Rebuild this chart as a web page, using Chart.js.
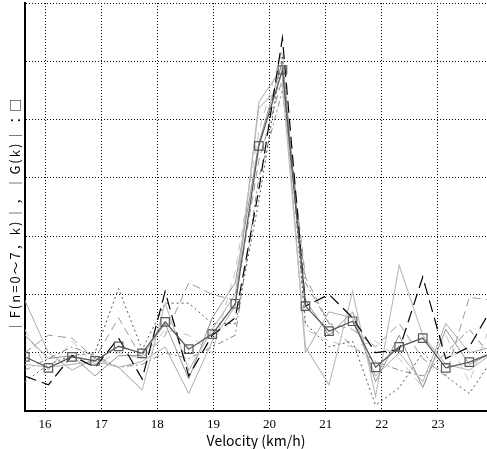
<!DOCTYPE html>
<html>
<head>
<meta charset="utf-8">
<script src="https://cdn.jsdelivr.net/npm/chart.js@4/dist/chart.umd.min.js"></script>
<style>
html,body{margin:0;padding:0;background:#fff;}
#wrap{width:487px;height:449px;position:relative;}
</style>
</head>
<body>
<div id="wrap"><canvas id="c" width="487" height="449"></canvas></div>
<script>
// Velocity (km/h) at each sample k
const velocity = [15.64, 16.06, 16.48, 16.89, 17.31, 17.73, 18.14, 18.56, 18.98, 19.39, 19.81, 20.23, 20.64, 21.06, 21.48, 21.89, 22.31, 22.73, 23.14, 23.56, 23.98];
const xTicks = [16, 17, 18, 19, 20, 21, 22, 23];
const yTitle = '｜F(n=0～7，k)｜，｜G(k)｜：□';
const xTitle = 'Velocity (km/h)';

// |G(k)|
const G  = [0.93, 0.74, 0.93, 0.86, 1.11, 0.99, 1.53, 1.06, 1.32, 1.84, 4.55, 5.85, 1.80, 1.37, 1.54, 0.75, 1.10, 1.25, 0.74, 0.84, 1.00];
// |F(n, k)| n = 0..7
const F0 = [0.60, 0.45, 0.95, 0.75, 1.25, 0.55, 2.05, 0.60, 1.30, 1.60, 3.80, 6.40, 1.80, 2.00, 1.60, 1.00, 1.05, 2.30, 0.90, 1.10, 1.80];
const F1 = [0.80, 0.75, 0.80, 0.85, 0.75, 0.36, 1.85, 0.70, 1.40, 2.00, 5.20, 5.60, 1.10, 0.45, 2.05, 0.25, 2.50, 1.30, 0.80, 0.70, 1.00];
const F2 = [1.30, 0.90, 0.95, 0.60, 0.95, 0.95, 1.50, 0.55, 1.60, 2.20, 4.60, 6.00, 1.90, 1.30, 1.70, 0.50, 1.30, 0.40, 1.40, 0.80, 1.00];
const F3 = [1.90, 1.00, 0.70, 0.90, 0.75, 0.85, 1.10, 0.30, 1.20, 1.80, 5.30, 5.90, 1.00, 1.70, 1.60, 0.60, 1.00, 0.50, 1.50, 1.00, 1.10];
const F4 = [0.50, 0.80, 0.95, 1.00, 2.10, 1.05, 1.85, 1.85, 1.50, 1.50, 3.60, 6.10, 1.50, 1.10, 1.20, 0.10, 0.40, 1.00, 0.60, 0.30, 0.90];
const F5 = [1.00, 1.30, 1.25, 0.90, 1.60, 0.90, 1.30, 2.20, 2.00, 1.90, 4.30, 5.70, 2.30, 1.50, 1.40, 1.10, 1.50, 0.90, 0.60, 1.95, 1.90];
const F6 = [0.70, 0.90, 1.10, 0.95, 0.75, 0.80, 1.00, 0.90, 1.10, 1.30, 4.00, 5.50, 2.20, 1.50, 1.10, 0.85, 0.70, 0.60, 1.00, 1.40, 0.90];
const F7 = [1.40, 0.70, 1.20, 0.80, 1.00, 0.90, 1.40, 1.30, 1.00, 2.40, 4.80, 6.20, 1.40, 1.20, 1.10, 1.20, 0.90, 0.40, 1.30, 0.50, 1.60];

const pts = arr => arr.map((v, i) => ({x: velocity[i], y: v}));

const fStyles = [
  {c:'#000000', w:1.2, d:[12,6]},
  {c:'#bcbcbc', w:1.1, d:[]},
  {c:'#959595', w:1.0, d:[]},
  {c:'#acacac', w:1.0, d:[]},
  {c:'#555555', w:1.0, d:[2,3]},
  {c:'#9a9a9a', w:1.0, d:[8,5]},
  {c:'#888888', w:1.0, d:[6,3,2,3]},
  {c:'#c4c4c4', w:1.0, d:[8,6]}
];
const Fs = [F0, F1, F2, F3, F4, F5, F6, F7];

const datasets = [{
  label: '|G(k)|',
  data: pts(G),
  borderColor: '#5a5a5a',
  borderWidth: 1.3,
  pointStyle: 'rect',
  pointRadius: 6,
  pointBorderColor: '#5a5a5a',
  pointBorderWidth: 1.2,
  pointBackgroundColor: 'rgba(0,0,0,0)',
  showLine: true,
  tension: 0
}];
Fs.forEach((arr, n) => {
  datasets.push({
    label: 'F' + n,
    data: pts(arr),
    borderColor: fStyles[n].c,
    borderWidth: fStyles[n].w,
    borderDash: fStyles[n].d,
    pointRadius: 0,
    showLine: true,
    tension: 0
  });
});

// Draws the rotated y-axis title with letter spacing
const yTitlePlugin = {
  id: 'yTitle',
  afterDraw(chart) {
    const ctx = chart.ctx;
    ctx.save();
    ctx.translate(15, 215);
    ctx.rotate(-Math.PI / 2);
    ctx.font = '13px "Noto Sans CJK JP", sans-serif';
    try { ctx.letterSpacing = '2px'; } catch (e) {}
    ctx.fillStyle = '#000';
    ctx.textAlign = 'center';
    ctx.textBaseline = 'middle';
    ctx.fillText(yTitle, 0, 0);
    ctx.restore();
  }
};

new Chart(document.getElementById('c'), {
  type: 'scatter',
  data: { datasets },
  plugins: [yTitlePlugin],
  options: {
    responsive: false,
    animation: false,
    devicePixelRatio: 1,
    layout: { autoPadding: false, padding: { top: 3, left: 0, right: 0, bottom: 0 } },
    plugins: { legend: { display: false }, tooltip: { enabled: false } },
    scales: {
      x: {
        type: 'linear',
        min: 15.643,
        max: 23.875,
        afterBuildTicks: s => { s.ticks = xTicks.map(v => ({value: v})); },
        afterFit: s => { s.paddingLeft = 0; s.paddingRight = 0; s.height = 38; },
        ticks: {
          font: { family: '"Liberation Serif", serif', size: 13 },
          color: '#000',
          padding: 6,
          includeBounds: false
        },
        grid: { color: '#000', lineWidth: 1, drawTicks: false },
        border: { display: true, color: '#000', width: 2, dash: [1, 2] },
        title: {
          display: true,
          text: xTitle,
          font: { family: '"Noto Sans CJK JP", sans-serif', size: 14 },
          color: '#000',
          padding: { top: -3, bottom: 0 }
        }
      },
      y: {
        min: 0,
        max: 7,
        afterFit: s => { s.paddingTop = 0; s.paddingBottom = 0; s.width = 25; },
        ticks: { display: false, stepSize: 1 },
        grid: { color: '#000', lineWidth: 1, drawTicks: false },
        border: { display: true, color: '#000', width: 2, dash: [1, 2] },
        title: { display: false }
      }
    }
  }
});
</script>
</body>
</html>
